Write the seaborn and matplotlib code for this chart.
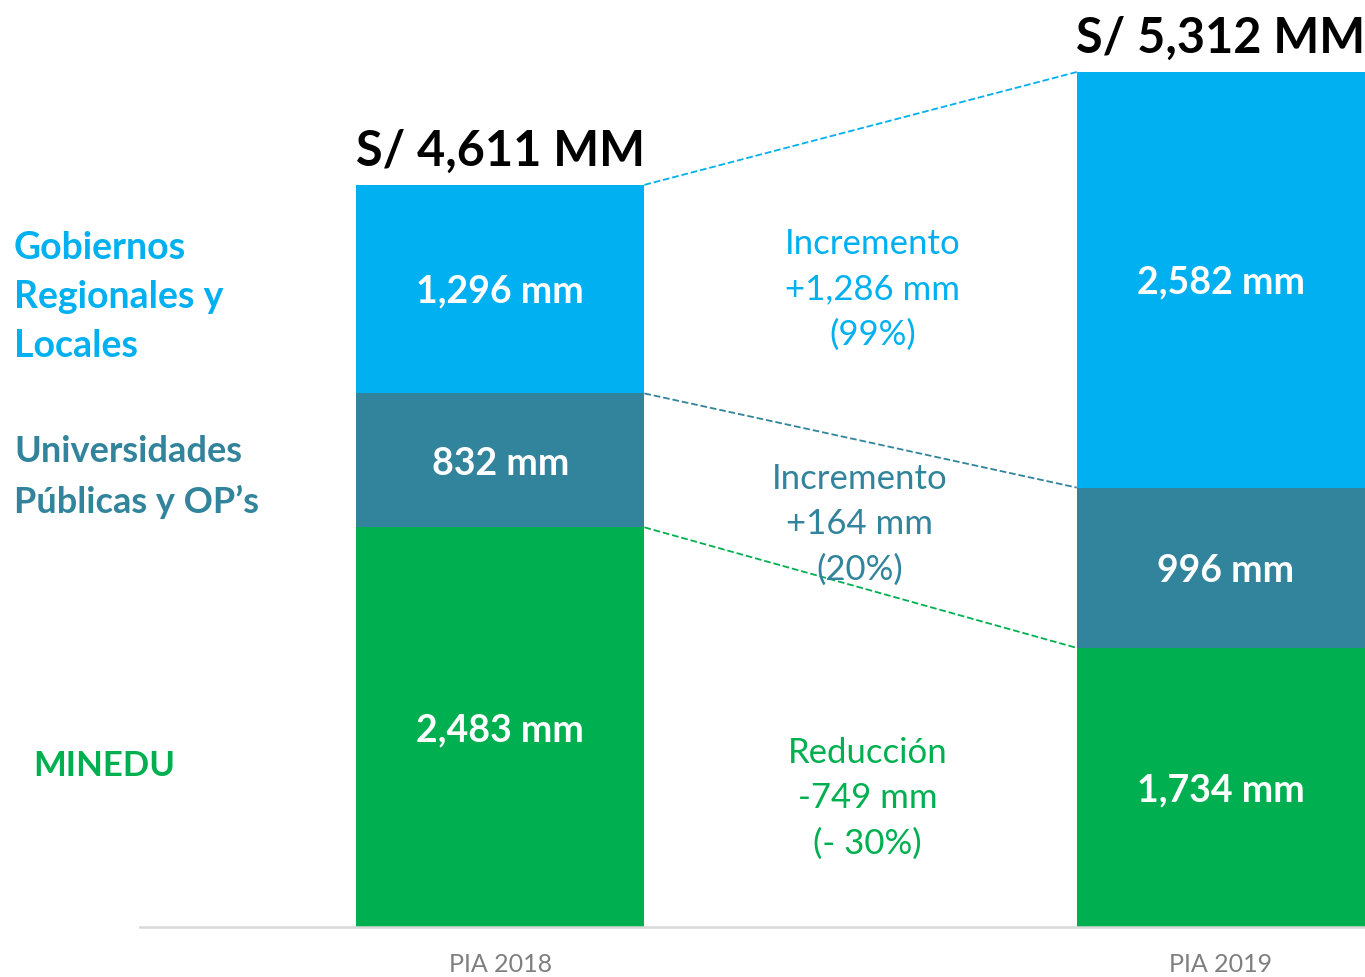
import pandas as pd
import seaborn as sns
import matplotlib.pyplot as plt

# datos (millones de soles)
periodos = ["PIA 2018", "PIA 2019"]
minedu = [2483, 1734]
universidades = [832, 996]
gobiernos = [1296, 2582]
totales_txt = ["S/ 4,611 MM", "S/ 5,312 MM"]
etiquetas_minedu = ["2,483 mm", "1,734 mm"]
etiquetas_univ = ["832 mm", "996 mm"]
etiquetas_gob = ["1,296 mm", "2,582 mm"]
cambio_gob = "Incremento\n+1,286 mm\n(99%)"
cambio_univ = "Incremento\n+164 mm\n(20%)"
cambio_minedu = "Reducción\n-749 mm\n(- 30%)"

AZUL = "#00B0F0"
TEAL = "#31849B"
VERDE = "#00B050"

sns.set_theme(style="white")
plt.rcParams['font.family'] = ['Lato', 'DejaVu Sans']

df = pd.DataFrame({'periodo': periodos, 'minedu': minedu,
                   'univ': universidades, 'gob': gobiernos})
df['nivel1'] = df['minedu']
df['nivel2'] = df['nivel1'] + df['univ']
df['nivel3'] = df['nivel2'] + df['gob']

fig = plt.figure(figsize=(13.65, 9.77), dpi=100)
ax = fig.add_axes([140 / 1365, 50 / 977, 1225 / 1365, 927 / 977])

# barras apiladas: se dibuja el acumulado de arriba hacia abajo
for col, color in [('nivel3', AZUL), ('nivel2', TEAL), ('nivel1', VERDE)]:
    sns.barplot(data=df, x='periodo', y=col, color=color, width=0.4,
                saturation=1, edgecolor='none', linewidth=0, ax=ax)

ax.set_xlim(-0.5, 1.2)
ax.set_ylim(0, 927 / (855 / 5312))
ax.set_xlabel('')
ax.set_ylabel('')
ax.set_yticks([])
for s in ['top', 'right', 'left']:
    ax.spines[s].set_visible(False)
ax.spines['bottom'].set_color('#D9D9D9')
ax.spines['bottom'].set_linewidth(1.8)
ax.tick_params(axis='x', length=0, pad=19, labelsize=18, labelcolor='#7F7F7F')

# lineas de conexion
ax.plot([0.2, 0.8], [df['nivel3'][0], df['nivel3'][1]], ls='--', color=AZUL, lw=1.3)
ax.plot([0.2, 0.8], [df['nivel2'][0], df['nivel2'][1]], ls='--', color=TEAL, lw=1.3)
ax.plot([0.2, 0.8], [df['nivel1'][0], df['nivel1'][1]], ls='--', color=VERDE, lw=1.3)

# totales y etiquetas
for i in range(2):
    ax.text(i, df['nivel3'][i] + 70, totales_txt[i], ha='center', va='bottom',
            fontsize=35, fontweight='bold', color='black')
    ax.text(i, df['nivel1'][i] / 2 - 20, etiquetas_minedu[i], ha='center', va='center',
            fontsize=27, fontweight='bold', color='white')
    ax.text(i + 0.007 * (i == 1), (df['nivel1'][i] + df['nivel2'][i]) / 2 - 20, etiquetas_univ[i],
            ha='center', va='center', fontsize=27, fontweight='bold', color='white')
    ax.text(i, (df['nivel2'][i] + df['nivel3'][i]) / 2 - 15, etiquetas_gob[i],
            ha='center', va='center', fontsize=27, fontweight='bold', color='white')

ax.text(0.517, 3960, cambio_gob, ha='center', va='center', fontsize=25,
        color=AZUL, linespacing=1.5)
ax.text(0.499, 2500, cambio_univ, ha='center', va='center', fontsize=25,
        color=TEAL, linespacing=1.5)
ax.text(0.51, 800, cambio_minedu, ha='center', va='center', fontsize=25,
        color=VERDE, linespacing=1.5)

# etiquetas de la izquierda
fig.text(14 / 1365, 1 - 297 / 977, "Gobiernos\nRegionales y\nLocales", ha='left', va='center',
         fontsize=27, fontweight='bold', color=AZUL, linespacing=1.54)
fig.text(14 / 1365, 1 - 477 / 977, "Universidades\nPúblicas y OP’s", ha='left', va='center',
         fontsize=26, fontweight='bold', color=TEAL, linespacing=1.6)
fig.text(33 / 1365, 1 - 766 / 977, "MINEDU", ha='left', va='center',
         fontsize=25, fontweight='bold', color=VERDE)

fig.savefig('out.png', dpi=100)
